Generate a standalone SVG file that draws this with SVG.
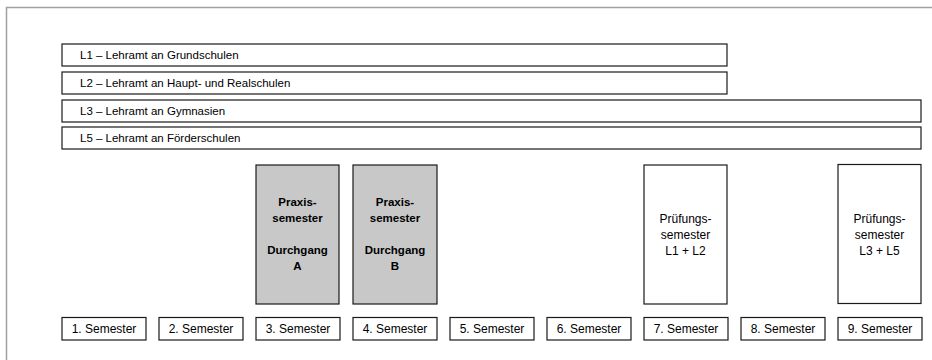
<svg xmlns="http://www.w3.org/2000/svg" width="932" height="360" viewBox="0 0 932 360">
<style>
text{font-family:"Liberation Sans",Arial,sans-serif;font-size:12px;fill:#000}
.box{fill:#fff;stroke:#1a1a1a;stroke-width:1.2}
.gray{fill:#c8c8c8;stroke:#1a1a1a;stroke-width:1.2}
.bar text{font-size:11.5px}
.b{font-weight:bold;font-size:11.5px}
.c{text-anchor:middle}
</style>
<rect x="6.5" y="7.5" width="1000" height="1000" fill="#fff" stroke="#a0a0a0" stroke-width="1.5"/>
<g id="bar-L1" class="bar"><rect class="box" x="62" y="44" width="665" height="22"/><text x="80" y="59">L1 – Lehramt an Grundschulen</text></g>
<g id="bar-L2" class="bar"><rect class="box" x="62" y="72" width="665" height="22"/><text x="80" y="87">L2 – Lehramt an Haupt- und Realschulen</text></g>
<g id="bar-L3" class="bar"><rect class="box" x="62" y="100" width="859" height="22"/><text x="80" y="115">L3 – Lehramt an Gymnasien</text></g>
<g id="bar-L5" class="bar"><rect class="box" x="62" y="127" width="859" height="22"/><text x="80" y="142">L5 – Lehramt an Förderschulen</text></g>
<g id="praxis-A"><rect class="gray" x="256" y="165" width="83" height="139"/>
<text class="b c" x="297.5" y="206">Praxis-</text><text class="b c" x="297.5" y="222">semester</text><text class="b c" x="297.5" y="254">Durchgang</text><text class="b c" x="297.5" y="270">A</text></g>
<g id="praxis-B"><rect class="gray" x="353" y="165" width="84" height="139"/>
<text class="b c" x="395" y="206">Praxis-</text><text class="b c" x="395" y="222">semester</text><text class="b c" x="395" y="254">Durchgang</text><text class="b c" x="395" y="270">B</text></g>
<g id="pruefung-L1L2"><rect class="box" x="644" y="165" width="83" height="139"/>
<text class="c" x="685.5" y="223">Prüfungs-</text><text class="c" x="685.5" y="239">semester</text><text class="c" x="685.5" y="255">L1 + L2</text></g>
<g id="pruefung-L3L5"><rect class="box" x="838" y="164.5" width="83" height="139"/>
<text class="c" x="879.5" y="222.5">Prüfungs-</text><text class="c" x="879.5" y="238.5">semester</text><text class="c" x="879.5" y="254.5">L3 + L5</text></g>
<g id="sem1"><rect class="box" x="62" y="317.5" width="84" height="22.5"/><text class="c" x="104" y="333">1. Semester</text></g>
<g id="sem2"><rect class="box" x="159" y="317.5" width="84" height="22.5"/><text class="c" x="201" y="333">2. Semester</text></g>
<g id="sem3"><rect class="box" x="256" y="317.5" width="84" height="22.5"/><text class="c" x="298" y="333">3. Semester</text></g>
<g id="sem4"><rect class="box" x="353" y="317.5" width="84" height="22.5"/><text class="c" x="395" y="333">4. Semester</text></g>
<g id="sem5"><rect class="box" x="450" y="317.5" width="84" height="22.5"/><text class="c" x="492" y="333">5. Semester</text></g>
<g id="sem6"><rect class="box" x="547" y="317.5" width="84" height="22.5"/><text class="c" x="589" y="333">6. Semester</text></g>
<g id="sem7"><rect class="box" x="644" y="317.5" width="84" height="22.5"/><text class="c" x="686" y="333">7. Semester</text></g>
<g id="sem8"><rect class="box" x="741" y="317.5" width="84" height="22.5"/><text class="c" x="783" y="333">8. Semester</text></g>
<g id="sem9"><rect class="box" x="838" y="317.5" width="84" height="22.5"/><text class="c" x="880" y="333">9. Semester</text></g>
<g id="connectors"/>
</svg>
